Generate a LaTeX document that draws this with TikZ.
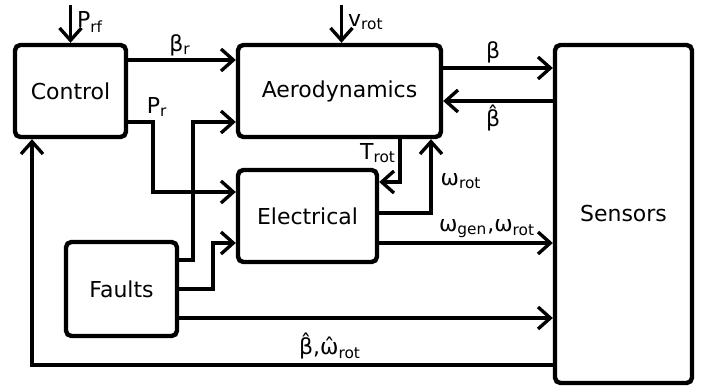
\documentclass[tikz,border=0pt]{standalone}
\usepackage{fontspec}
\setmainfont{DejaVu Sans}
\usetikzlibrary{arrows.meta, positioning, calc}

\begin{document}
\begin{tikzpicture}[
  x=0.02cm, y=0.02cm,
  font=\fontsize{12.5}{15}\selectfont,
  blk/.style={draw, line width=2.5pt, rounded corners=3pt,
              minimum height=1.84cm, inner sep=0pt, align=center},
  arr/.style={-{Straight Barb[length=7pt, width=12.5pt]}, line width=1.9pt},
  lbl/.style={inner sep=1pt}
]
\useasboundingbox (0,0) rectangle (705,385);

\node[blk, minimum width=2.22cm] (ctrl) at (70.5,294) {Control};
\node[blk, minimum width=4.06cm] (aero) at (339.5,294) {Aerodynamics};
\node[blk, minimum width=2.78cm] (elec) at (307.5,169) {Electrical};
\node[blk, minimum width=2.22cm, minimum height=1.88cm] (flt) at (121.5,96) {Faults};
\node[blk, minimum width=2.74cm, minimum height=6.76cm] (sens) at (623.5,171) {Sensors};

\coordinate (prf) at (70.5,380);
\coordinate (vrot) at (341.5,380);

\draw[arr] (prf) -- (ctrl.north);
\draw[arr] (vrot) -- (vrot |- aero.north);
\draw[arr] (ctrl.east |- 0,325) -- (aero.west |- 0,325);
\draw[arr] (ctrl.east |- 0,263) -| (153,193) -- (elec.west |- 0,193);
\draw[arr] (flt.east |- 0,125) -| (193,263) -- (aero.west |- 0,263);
\draw[arr] (flt.east) -| (213,142) -- (elec.west |- 0,142);
\draw[arr] (flt.east |- 0,67) -- (sens.west |- 0,67);
\draw[arr] (sens.west |- 0,20) -- (32,20) -- (32,0 |- ctrl.south);
\draw[arr] (aero.east |- 0,317) -- (sens.west |- 0,317);
\draw[arr] (sens.west |- 0,284) -- (aero.east |- 0,284);
\draw[arr] (400,0 |- aero.south) |- (elec.east |- 0,203);
\draw[arr] (elec.east |- 0,172) -| (431,0 |- aero.south);
\draw[arr] (elec.east |- 0,142) -- (sens.west |- 0,142);

% signal labels
\node[lbl, anchor=west] (lprf) at (75,363) {P\textsubscript{rf}};
\node[lbl, anchor=west] (lvrot) at (346,363) {v\textsubscript{rot}};
\node[lbl] (lbr) at (180,340) {β\textsubscript{r}};
\node[lbl] (lpr) at (157,278) {P\textsubscript{r}};
\node[lbl] (lb) at (493,333) {β};
\node[lbl] (lbh) at (493,267) {β̂};
\node[lbl] (ltrot) at (378,232) {T\textsubscript{rot}};
\node[lbl] (lwrot) at (461,204) {ω\textsubscript{rot}};
\node[lbl] (lwgen) at (487,156) {ω\textsubscript{gen},ω\textsubscript{rot}};
\node[lbl] (lfb) at (330,39) {β̂,ω̂\textsubscript{rot}};
\end{tikzpicture}
\end{document}
